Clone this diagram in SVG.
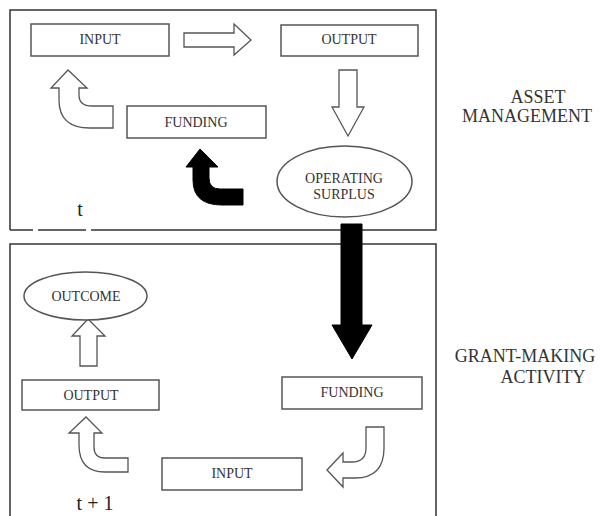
<svg xmlns="http://www.w3.org/2000/svg" width="602" height="516" viewBox="0 0 602 516">
<style>
.frame{fill:none;stroke:#333;stroke-width:1.5}
.box{fill:#fff;stroke:#555;stroke-width:1.5}
.hollow{fill:#fff;stroke:#555;stroke-width:1.3;stroke-linejoin:miter}
.solid{fill:#000;stroke:#000;stroke-width:1}
.lbl{font-family:"Liberation Serif","Times New Roman",serif;font-size:14px;fill:#333;text-anchor:middle}
.side{font-family:"Liberation Serif","Times New Roman",serif;font-size:18px;fill:#333;text-anchor:middle}
.time{font-family:"Liberation Serif","Times New Roman",serif;font-size:20px;fill:#222;text-anchor:middle}
</style>
<rect width="602" height="516" fill="#fff"/>
<g id="frames">
<path class="frame" d="M10,230 L10,10 L436,10 L436,230 L91,230 M86,230 L38,230 M33,230 L10,230"/>
<path class="frame" d="M10,516 L10,244 L436,244 L436,516"/>
</g>
<g id="connectors">
<path class="hollow" d="M184,33 L234,33 L234,24 L251,40 L234,55 L234,47 L184,47 Z"/>
<path class="hollow" d="M339,70 L357,70 L357,107 L364,107 L348,136 L332,107 L339,107 Z"/>
<path class="hollow" d="M113,106 L92,106 Q79,106 79,95 L79,88 L87,88 L68,70 L51,88 L59,88 L59,100 Q59,128 90,128 L113,128 Z"/>
<path class="solid" d="M243,189 L220,189 Q209,189 209,178 L209,167 L218,167 L200,149 L186,167 L193,167 L193,180 Q193,205 222,205 L243,205 Z"/>
<path class="solid" d="M341,224 L362,224 L362,325 L372,325 L352,359 L332,325 L341,325 Z"/>
<path class="hollow" d="M366,427 L384,427 L384,448 Q384,478 355,478 L343,478 L343,487 L327,470 L343,453 L343,462 L352,462 Q366,462 366,448 Z"/>
<path class="hollow" d="M128,458 L105,458 Q94,458 94,447 L94,433 L102,433 L86,417 L69,433 L79,433 L79,445 Q79,472 105,472 L128,472 Z"/>
<path class="hollow" d="M80,366 L97,366 L97,336 L105,336 L88,319 L72,336 L80,336 Z"/>
</g>
<g id="input-top"><rect class="box" x="31" y="24" width="138" height="32"/><text class="lbl" x="100" y="44">INPUT</text></g>
<g id="output-top"><rect class="box" x="281" y="25" width="137" height="31"/><text class="lbl" x="349" y="44">OUTPUT</text></g>
<g id="funding-top"><rect class="box" x="127" y="106" width="139" height="32"/><text class="lbl" x="196" y="127">FUNDING</text></g>
<g id="operating-surplus"><ellipse class="box" cx="344.5" cy="181.5" rx="67.5" ry="35.5"/><text class="lbl" x="344" y="183">OPERATING</text><text class="lbl" x="344" y="199">SURPLUS</text></g>
<g id="outcome"><ellipse class="box" cx="85.5" cy="296" rx="61.5" ry="24"/><text class="lbl" x="86" y="301">OUTCOME</text></g>
<g id="output-bottom"><rect class="box" x="22" y="380" width="137" height="30"/><text class="lbl" x="91" y="400">OUTPUT</text></g>
<g id="funding-bottom"><rect class="box" x="282" y="377" width="140" height="32"/><text class="lbl" x="352" y="397">FUNDING</text></g>
<g id="input-bottom"><rect class="box" x="162" y="458" width="140" height="32"/><text class="lbl" x="232" y="478">INPUT</text></g>
<g id="labels">
<text class="time" x="80" y="216">t</text>
<text class="time" x="95" y="510">t + 1</text>
<text class="side" x="538" y="103">ASSET</text>
<text class="side" x="527" y="122">MANAGEMENT</text>
<text class="side" x="525" y="362">GRANT-MAKING</text>
<text class="side" x="543" y="383">ACTIVITY</text>
</g>
</svg>
